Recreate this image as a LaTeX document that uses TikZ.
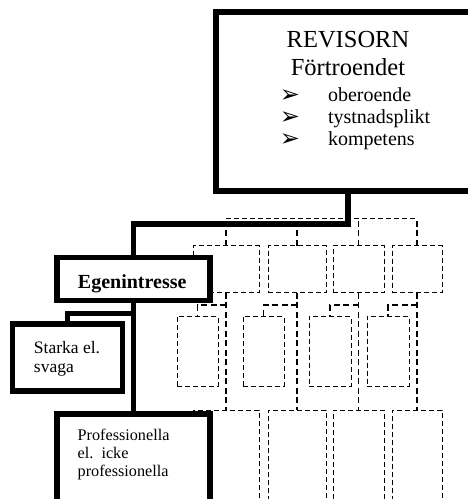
\documentclass[tikz,border=0pt]{standalone}
\usepackage{fontspec}
\setmainfont{Liberation Serif}
\newfontfamily\symfont{DejaVu Sans}
\begin{document}
\begin{tikzpicture}[x=1pt,y=-1pt,
  thickbox/.style={draw, line width=5.3pt, fill=white, inner sep=0pt, outer sep=0pt, rectangle},
  thickline/.style={line width=5.3pt},
  ghostbox/.style={draw, line width=0.9pt, dash pattern=on 5pt off 3pt, inner sep=0pt, outer sep=0pt, rectangle},
  ghostline/.style={line width=1.5pt, dash pattern=on 6pt off 3.5pt},
  ghostbus/.style={line width=0.9pt, dash pattern=on 5pt off 3pt},
  lbl/.style={inner sep=0pt, outer sep=0pt},
  bullet/.style={inner sep=0pt, outer sep=0pt, anchor=base, text height=8pt, text depth=0pt,
    font=\symfont\fontsize{24}{24}\selectfont},
]
\useasboundingbox (0,0) rectangle (468,499);
\clip (0,0) rectangle (468,499);

% ---- dashed background chart ----
\coordinate (bus) at (0,218);
\coordinate (hook) at (0,305);
% second row
\node[ghostbox, minimum width=66pt, minimum height=47pt] (r2a) at (226,269.2) {};
\node[ghostbox, minimum width=58pt, minimum height=47pt] (r2b) at (297,269.2) {};
\node[ghostbox, minimum width=51pt, minimum height=47pt] (r2c) at (358.5,269.2) {};
\node[ghostbox, minimum width=50pt, minimum height=47pt] (r2d) at (417,269.2) {};
% third row
\node[ghostbox, minimum width=41pt, minimum height=69.3pt] (r3a) at (197.5,351.3) {};
\node[ghostbox, minimum width=41pt, minimum height=69.3pt] (r3b) at (263.5,351.3) {};
\node[ghostbox, minimum width=42pt, minimum height=69.3pt] (r3c) at (330,351.3) {};
\node[ghostbox, minimum width=42pt, minimum height=69.3pt] (r3d) at (388,351.3) {};
% fourth row
\node[ghostbox, minimum width=66pt, minimum height=110pt] (r4a) at (226,465) {};
\node[ghostbox, minimum width=58pt, minimum height=110pt] (r4b) at (297,465) {};
\node[ghostbox, minimum width=51pt, minimum height=110pt] (r4c) at (358.5,465) {};
\node[ghostbox, minimum width=50pt, minimum height=110pt] (r4d) at (417,465) {};

\draw[ghostbus] (r2a.north |- bus) -- (r2d.north |- bus);
\foreach \n in {r2a,r2b,r2c,r2d}
  \draw[ghostline, line width=1.2pt] (\n.north) -- (\n.north |- bus);
\draw[ghostline] (r2a.south) -- (r4a.north);
\draw[ghostline] (r2b.south) -- (r4b.north);
\draw[ghostline] (r2c.south) -- (r4c.north);
\draw[ghostline] (r2d.south) -- (r4d.north);
\draw[ghostline] (r2a.south |- hook) -| (r3a.north);
\draw[ghostline] (r2b.south |- hook) -| (r3b.north);
\draw[ghostline] (r2c.south |- hook) -| (r3c.north);
\draw[ghostline] (r2d.south |- hook) -| (r3d.north);

% ---- main chart ----
\node[thickbox, minimum width=264pt, minimum height=179pt] (rev) at (348,101.5) {};
\node[thickbox, minimum width=153pt, minimum height=43pt] (ego) at (133.5,279) {};
\node[thickbox, minimum width=110pt, minimum height=67pt] (sv) at (67.5,357.5) {};
\node[thickbox, minimum width=153pt, minimum height=110pt] (prof) at (133.5,469) {};

\coordinate (fork) at (133.5,313.5);
\draw[thickline] (rev.south) -- ++(0,33) -| (ego.north);
\draw[thickline] (ego.south) -- (prof.north);
\draw[thickline] (fork) -| (sv.north);

% ---- texts ----
\node[lbl, anchor=north, align=center, font=\fontsize{24.5}{28.3}\selectfont] (revtitle) at (348,31.3) {REVISORN\\Förtroendet};
\node[lbl, anchor=north west, align=left, font=\fontsize{20}{22}\selectfont] (revlist) at (328,87.3) {oberoende\\tystnadsplikt\\kompetens};
\node[bullet] (b1) at (290,102.5) {➢};
\node[bullet] (b2) at (290,124.5) {➢};
\node[bullet] (b3) at (290,146.5) {➢};

\node[lbl, anchor=base, font=\bfseries\fontsize{20}{24}\selectfont] (egotext) at (132.2,288.3) {Egenintresse};
\node[lbl, anchor=north west, align=left, font=\fontsize{17.5}{19}\selectfont] (svtext) at (34,341) {Starka el.\\svaga};
\node[lbl, anchor=north west, align=left, font=\fontsize{16.2}{18.3}\selectfont] (proftext) at (77.7,428.9) {Professionella\\el.\ \ icke\\professionella};
\end{tikzpicture}
\end{document}
